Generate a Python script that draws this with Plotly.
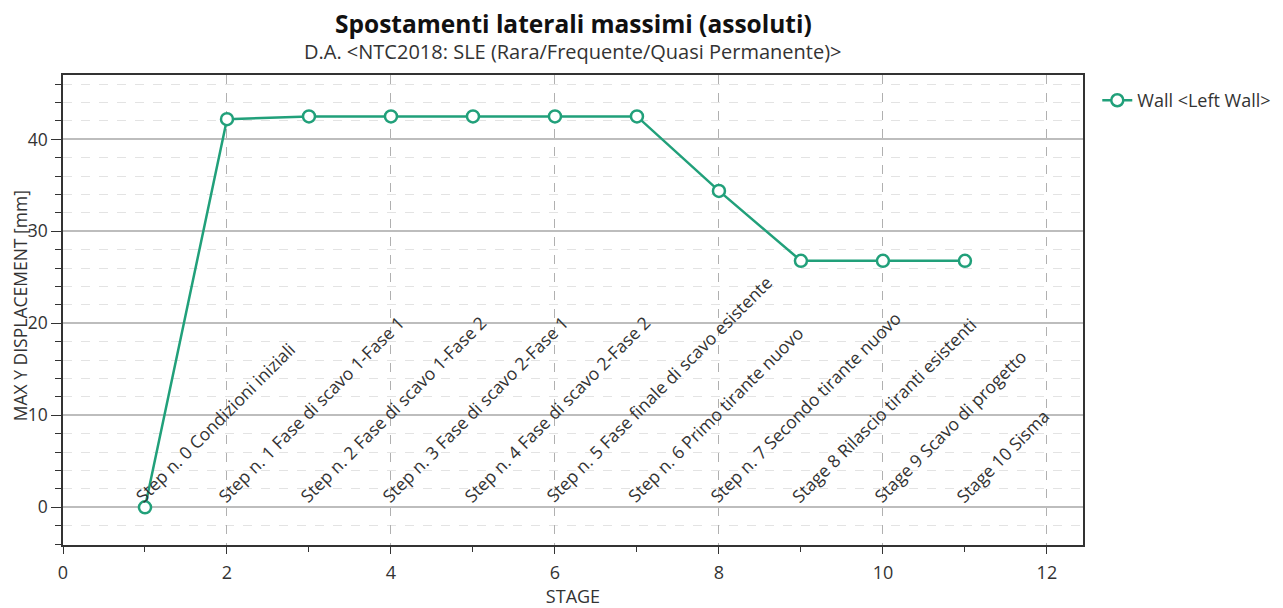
import plotly.graph_objects as go

stages = [1, 2, 3, 4, 5, 6, 7, 8, 9, 10, 11]
displacement = [0.0, 42.2, 42.5, 42.5, 42.5, 42.5, 42.5, 34.4, 26.8, 26.8, 26.8]
stage_labels = [
    "Step n. 0 Condizioni iniziali",
    "Step n. 1 Fase di scavo 1-Fase 1",
    "Step n. 2 Fase di scavo 1-Fase 2",
    "Step n. 3 Fase di scavo 2-Fase 1",
    "Step n. 4 Fase di scavo 2-Fase 2",
    "Step n. 5 Fase finale di scavo esistente",
    "Step n. 6 Primo tirante nuovo",
    "Step n. 7 Secondo tirante nuovo",
    "Stage 8 Rilascio tiranti esistenti",
    "Stage 9 Scavo di progetto",
    "Stage 10 Sisma",
]
x_ticks = [0, 2, 4, 6, 8, 10, 12]
y_ticks = [0, 10, 20, 30, 40]
title_text = "Spostamenti laterali massimi (assoluti)"
subtitle_text = "D.A. &lt;NTC2018: SLE (Rara/Frequente/Quasi Permanente)&gt;"
x_title = "STAGE"
y_title = "MAX Y DISPLACEMENT [mm]"

FONT = "Open Sans, Noto Sans, sans-serif"
GREEN = "#21a07a"
TXT = "#333333"

fig = go.Figure()
fig.add_trace(go.Scatter(
    x=stages, y=displacement, mode="lines+markers", name="Wall &lt;Left Wall&gt;",
    line=dict(color=GREEN, width=2.5),
    marker=dict(symbol="circle", size=12, color="white", line=dict(color=GREEN, width=2.5)),
))

for s, lab in zip(stages, stage_labels):
    fig.add_annotation(
        x=s - 0.21, y=-0.3, xref="x", yref="y", text=lab, showarrow=False,
        textangle=-45, xanchor="left", yanchor="bottom",
        font=dict(family=FONT, size=17.5, color=TXT),
    )

fig.add_annotation(x=0.5, y=1.109, xref="paper", yref="paper", text="<b>" + title_text + "</b>",
                   showarrow=False, xanchor="center", yanchor="middle",
                   font=dict(family=FONT, size=24.5, color="#111"))
fig.add_annotation(x=0.5, y=1.049, xref="paper", yref="paper", text=subtitle_text,
                   showarrow=False, xanchor="center", yanchor="middle",
                   font=dict(family=FONT, size=20, color=TXT))
fig.add_annotation(x=-0.0422, y=0.51, xref="paper", yref="paper", text=y_title,
                   showarrow=False, xanchor="center", yanchor="middle", textangle=-90,
                   borderpad=0,
                   font=dict(family=FONT, size=17.5, color=TXT))

axis_line = dict(showline=True, linecolor="#333", linewidth=1.5, mirror=True)

fig.update_layout(
    width=1283, height=608,
    margin=dict(l=55, r=208, t=67, b=71),
    paper_bgcolor="white", plot_bgcolor="white",
    font=dict(family=FONT, size=18, color=TXT),
    showlegend=True,
    legend=dict(x=1.014, y=0.985, xanchor="left", yanchor="top",
                font=dict(family=FONT, size=18, color=TXT), bgcolor="rgba(0,0,0,0)"),
    xaxis=dict(
        range=[0, 12.44], tickvals=x_ticks, ticks="outside", ticklen=7, tickcolor="#333",
        showgrid=True, gridcolor="#b0b0b0", griddash="dash", gridwidth=1,
        zeroline=False, automargin=False,
        tickfont=dict(size=18), ticklabelstandoff=4,
        minor=dict(dtick=1, tick0=0, ticks="outside", ticklen=5, tickcolor="#333", showgrid=False),
        title=dict(text=x_title, font=dict(size=18, color=TXT), standoff=6),
        **axis_line,
    ),
    yaxis=dict(
        range=[-4.1, 47], tickvals=y_ticks, ticks="outside", ticklen=10, tickcolor="#333",
        showgrid=True, gridcolor="#bdbdbd", gridwidth=1.5,
        zeroline=False, automargin=False,
        tickfont=dict(size=17.5),
        minor=dict(dtick=2, tick0=0, ticks="outside", ticklen=6, tickcolor="#333",
                   showgrid=True, gridcolor="#e3e3e3", griddash="dash", gridwidth=1),
        **axis_line,
    ),
)

fig.write_html("out.html")
